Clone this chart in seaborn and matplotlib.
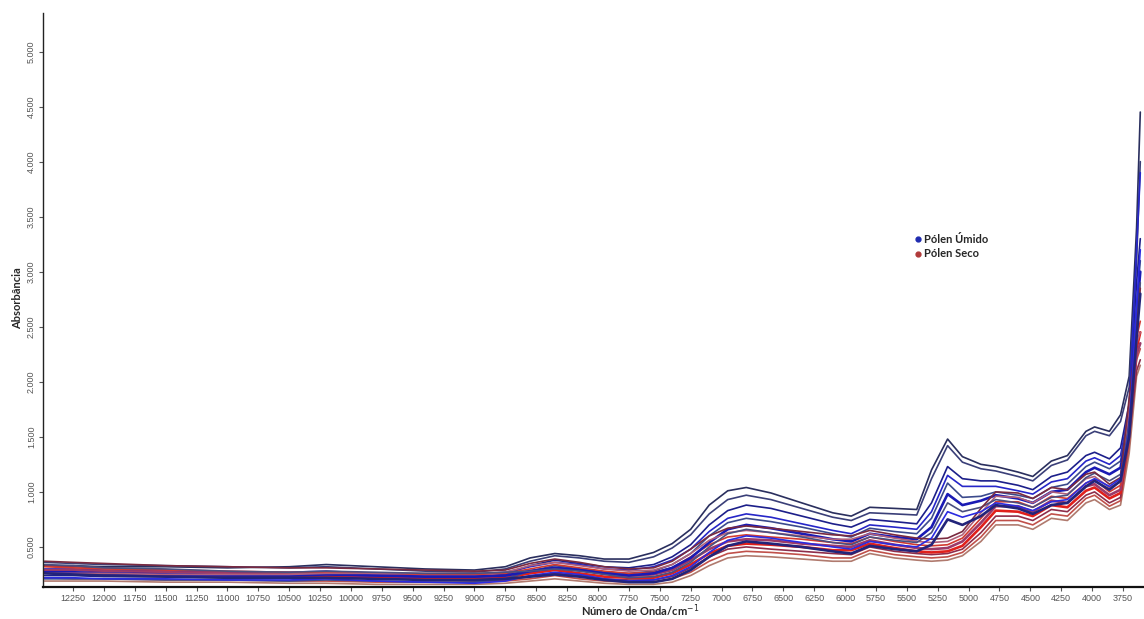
import matplotlib
matplotlib.use("Agg")
import matplotlib.pyplot as plt
from matplotlib.lines import Line2D
import numpy as np
import pandas as pd
import seaborn as sns

# Wavenumbers (cm^-1) at which each NIR spectrum is sampled
numero_onda = [12480, 12250, 12000, 11500, 11000, 10500, 10200, 9800, 9400, 9000,
               8750, 8550, 8350, 8150, 7950, 7750, 7550, 7400, 7250, 7100,
               6950, 6800, 6600, 6350, 6100, 5950, 5800, 5600, 5420, 5300,
               5170, 5050, 4900, 4780, 4600, 4480, 4330, 4200, 4050, 3980,
               3860, 3770, 3700, 3640, 3610]

# Wet pollen spectra (absorbance)
umido_1 = [.33, .33, .32, .32, .31, .32, .34, .32, .30, .29, .32, .40, .44, .42, .39, .39, .45, .53, .66, .88,
           1.01, 1.04, .99, .90, .81, .78, .86, .85, .84, 1.20, 1.48, 1.32, 1.25, 1.23, 1.18, 1.14, 1.28, 1.33, 1.55, 1.59,
           1.55, 1.70, 2.05, 3.40, 4.45]
umido_2 = [.36, .35, .34, .33, .32, .31, .32, .30, .28, .27, .30, .37, .42, .40, .37, .36, .41, .49, .61, .80,
           .93, .97, .93, .85, .77, .74, .81, .80, .79, 1.12, 1.42, 1.27, 1.21, 1.19, 1.14, 1.10, 1.24, 1.29, 1.51, 1.55,
           1.51, 1.64, 1.95, 3.10, 4.00]
umido_3 = [.24, .24, .23, .23, .22, .23, .24, .23, .22, .22, .25, .33, .38, .35, .32, .31, .34, .41, .52, .70,
           .83, .88, .85, .78, .71, .68, .75, .73, .71, .90, 1.23, 1.12, 1.10, 1.10, 1.06, 1.02, 1.14, 1.18, 1.33, 1.36,
           1.30, 1.40, 1.80, 2.90, 3.30]
umido_4 = [.30, .30, .29, .28, .27, .27, .28, .26, .25, .25, .27, .32, .36, .34, .30, .29, .32, .38, .48, .64,
           .76, .80, .77, .71, .65, .62, .70, .68, .66, .82, 1.15, 1.05, 1.05, 1.05, 1.01, .98, 1.09, 1.12, 1.28, 1.31,
           1.25, 1.33, 1.75, 3.20, 3.90]
umido_5 = [.21, .21, .21, .20, .20, .19, .20, .19, .18, .18, .21, .28, .33, .30, .27, .26, .28, .34, .44, .60,
           .72, .76, .73, .68, .62, .59, .67, .64, .62, .76, 1.08, .95, .96, 1.00, .97, .94, 1.04, 1.07, 1.23, 1.27,
           1.21, 1.28, 1.70, 2.70, 3.10]
umido_6 = [.27, .27, .26, .25, .24, .24, .25, .24, .23, .23, .24, .28, .31, .29, .26, .24, .26, .31, .40, .54,
           .66, .70, .67, .62, .57, .55, .62, .59, .57, .68, .98, .88, .92, .97, .94, .90, 1.00, 1.02, 1.18, 1.22,
           1.16, 1.22, 1.65, 2.60, 3.00]
umido_7 = [.34, .33, .31, .30, .28, .27, .28, .27, .26, .26, .27, .28, .30, .28, .25, .22, .23, .27, .36, .50,
           .62, .66, .63, .59, .54, .52, .59, .56, .54, .63, .90, .82, .86, .93, .90, .86, .95, .97, 1.13, 1.17,
           1.10, 1.16, 1.60, 2.50, 2.90]
umido_8 = [.22, .22, .21, .21, .20, .20, .21, .19, .18, .17, .19, .24, .27, .25, .21, .19, .20, .24, .32, .45,
           .56, .60, .58, .54, .50, .48, .55, .52, .50, .58, .82, .77, .82, .90, .87, .83, .91, .93, 1.08, 1.12,
           1.05, 1.12, 1.55, 2.70, 3.20]
umido_9 = [.26, .25, .24, .23, .22, .22, .22, .21, .20, .20, .21, .23, .25, .23, .20, .18, .18, .21, .29, .41,
           .51, .55, .53, .50, .46, .44, .51, .48, .46, .52, .75, .70, .78, .88, .85, .80, .88, .90, 1.05, 1.10,
           1.02, 1.10, 1.50, 2.40, 2.80]

# Dry pollen spectra (absorbance)
seco_1 = [.19, .19, .19, .18, .18, .17, .17, .16, .16, .16, .17, .19, .21, .19, .17, .16, .16, .18, .24, .33,
          .40, .42, .41, .39, .37, .37, .44, .40, .38, .37, .38, .42, .55, .70, .70, .66, .76, .74, .90, .93,
          .84, .88, 1.35, 2.05, 2.15]
seco_2 = [.22, .21, .21, .20, .20, .19, .19, .18, .18, .18, .19, .21, .24, .21, .19, .18, .18, .21, .27, .37,
          .44, .46, .45, .43, .40, .40, .47, .43, .41, .40, .41, .45, .59, .74, .74, .70, .80, .78, .94, .97,
          .87, .92, 1.42, 2.20, 2.30]
seco_3 = [.33, .32, .31, .29, .27, .25, .24, .22, .21, .19, .20, .23, .26, .24, .21, .20, .20, .23, .31, .41,
          .48, .50, .48, .46, .44, .43, .50, .46, .44, .43, .44, .48, .63, .78, .78, .74, .84, .82, .97, 1.00,
          .90, .95, 1.50, 2.10, 2.20]
seco_4 = [.27, .26, .26, .24, .24, .23, .23, .22, .21, .21, .22, .26, .29, .26, .23, .22, .22, .26, .34, .44,
          .51, .53, .52, .50, .47, .47, .53, .49, .46, .45, .46, .51, .68, .83, .82, .78, .88, .86, 1.01, 1.04,
          .94, .99, 1.58, 2.30, 2.45]
seco_5 = [.29, .29, .28, .27, .26, .25, .25, .24, .23, .23, .24, .28, .31, .29, .26, .24, .25, .29, .38, .48,
          .55, .57, .56, .53, .51, .50, .56, .52, .49, .48, .49, .55, .72, .87, .87, .82, .92, .90, 1.05, 1.07,
          .97, 1.02, 1.62, 2.25, 2.35]
seco_6 = [.32, .31, .30, .29, .28, .27, .27, .26, .25, .25, .26, .30, .34, .31, .28, .26, .27, .31, .41, .52,
          .59, .61, .59, .57, .54, .53, .59, .55, .52, .51, .52, .58, .76, .91, .91, .86, .96, .94, 1.08, 1.11,
          1.00, 1.06, 1.70, 2.40, 2.55]
seco_7 = [.26, .26, .26, .25, .25, .25, .26, .26, .26, .26, .27, .33, .36, .33, .30, .28, .29, .34, .44, .56,
          .63, .65, .63, .60, .57, .57, .62, .58, .55, .54, .55, .61, .81, .96, .95, .90, 1.00, .98, 1.12, 1.14,
          1.04, 1.09, 1.78, 2.35, 2.45]
seco_8 = [.37, .36, .35, .33, .32, .31, .31, .30, .29, .28, .29, .35, .39, .36, .32, .30, .31, .37, .48, .60,
          .67, .69, .67, .64, .61, .60, .65, .61, .58, .57, .58, .64, .85, 1.00, .99, .94, 1.04, 1.02, 1.16, 1.18,
          1.07, 1.13, 1.85, 2.45, 2.85]

umido = [umido_1, umido_2, umido_3, umido_4, umido_5, umido_6, umido_7, umido_8, umido_9]
seco = [seco_1, seco_2, seco_3, seco_4, seco_5, seco_6, seco_7, seco_8]

cores_umido = ["#2a2f5e", "#3a3f78", "#1c1f8a", "#2626c8", "#3b4a8c", "#1a1ab4",
               "#4a4f80", "#2b2be0", "#22247a"]
cores_seco = ["#b07a6e", "#c0504a", "#8e2d4a", "#e0201c", "#9c3a68", "#d23a30",
              "#b0607a", "#7a2a40"]

y_ticks = [0.5, 1.0, 1.5, 2.0, 2.5, 3.0, 3.5, 4.0, 4.5, 5.0]
x_ticks = list(range(12250, 3500, -250))

# long-form table of all spectra
linhas = []
for i, s in enumerate(umido):
    for w, a in zip(numero_onda, s):
        linhas.append(("U%d" % i, "Pólen Úmido", w, a))
for i, s in enumerate(seco):
    for w, a in zip(numero_onda, s):
        linhas.append(("S%d" % i, "Pólen Seco", w, a))
df = pd.DataFrame(linhas, columns=["amostra", "grupo", "onda", "abs"])

sns.set_style("white")
plt.rcParams["font.family"] = ["Liberation Sans", "DejaVu Sans"]

fig = plt.figure(figsize=(11.44, 6.19), dpi=100)
ax = fig.add_axes([43 / 1144, 1 - 587 / 619, 1 - 43 / 1144, (587 - 13) / 619])

palette = {}
for i, c in enumerate(cores_umido):
    palette["U%d" % i] = c
for i, c in enumerate(cores_seco):
    palette["S%d" % i] = c

# interleave wet and dry spectra so the bands blend as in a spectral overlay
ordem = []
for i in range(max(len(umido), len(seco))):
    if i < len(seco):
        ordem.append("S%d" % i)
    if i < len(umido):
        ordem.append("U%d" % i)

for nome in ordem:
    sub = df[df["amostra"] == nome]
    lw = 1.9 if nome in ("U5", "S3", "S4", "U8") else 1.2
    sns.lineplot(data=sub, x="onda", y="abs", color=palette[nome], lw=lw,
                 ax=ax, sort=False, estimator=None, legend=False)

ax.set_xlim(12493, 3580)
ax.set_ylim(0.136, 5.35)
ax.set_xticks(x_ticks)
ax.set_xticklabels([str(t) for t in x_ticks], fontsize=6.5, color="#555555")
ax.set_yticks(y_ticks)
ax.set_yticklabels(["%.3f" % t for t in y_ticks], fontsize=6.5, color="#555555",
                   rotation=90, va="center")
ax.tick_params(axis="both", direction="out", length=3, width=0.8, colors="#555555",
               labelcolor="#555555", pad=2)
ax.tick_params(axis="x", bottom=True)
ax.tick_params(axis="y", left=True)
for s in ("top", "right"):
    ax.spines[s].set_visible(False)
ax.spines["left"].set_color("#222222")
ax.spines["left"].set_linewidth(1.0)
ax.spines["bottom"].set_color("#111111")
ax.spines["bottom"].set_linewidth(1.6)
ax.set_xlabel("")
ax.set_ylabel("")

fig.text(640 / 1144, 1 - 611 / 619, "Número de Onda/cm$^{-1}$", ha="center", va="center",
         fontsize=8, fontweight="bold", family=["Lato", "DejaVu Sans"])
fig.text(18 / 1144, 1 - 298 / 619, "Absorbância", ha="center", va="center", rotation=90,
         fontsize=8, fontweight="bold", family=["Lato", "DejaVu Sans"])

handles = [Line2D([], [], marker="o", ls="", color="#1f2bb0", markersize=3.5),
           Line2D([], [], marker="o", ls="", color="#b03a3a", markersize=3.5)]
leg = ax.legend(handles, ["Pólen Úmido", "Pólen Seco"], loc="upper left",
                bbox_to_anchor=(908 / 1144, 1 - 228 / 619), bbox_transform=fig.transFigure,
                frameon=False, handletextpad=0.1, handlelength=0.8, labelspacing=0.35,
                borderpad=0, prop={"family": ["Lato", "DejaVu Sans"], "weight": "bold", "size": 8})

fig.savefig("out.png", dpi=100)
